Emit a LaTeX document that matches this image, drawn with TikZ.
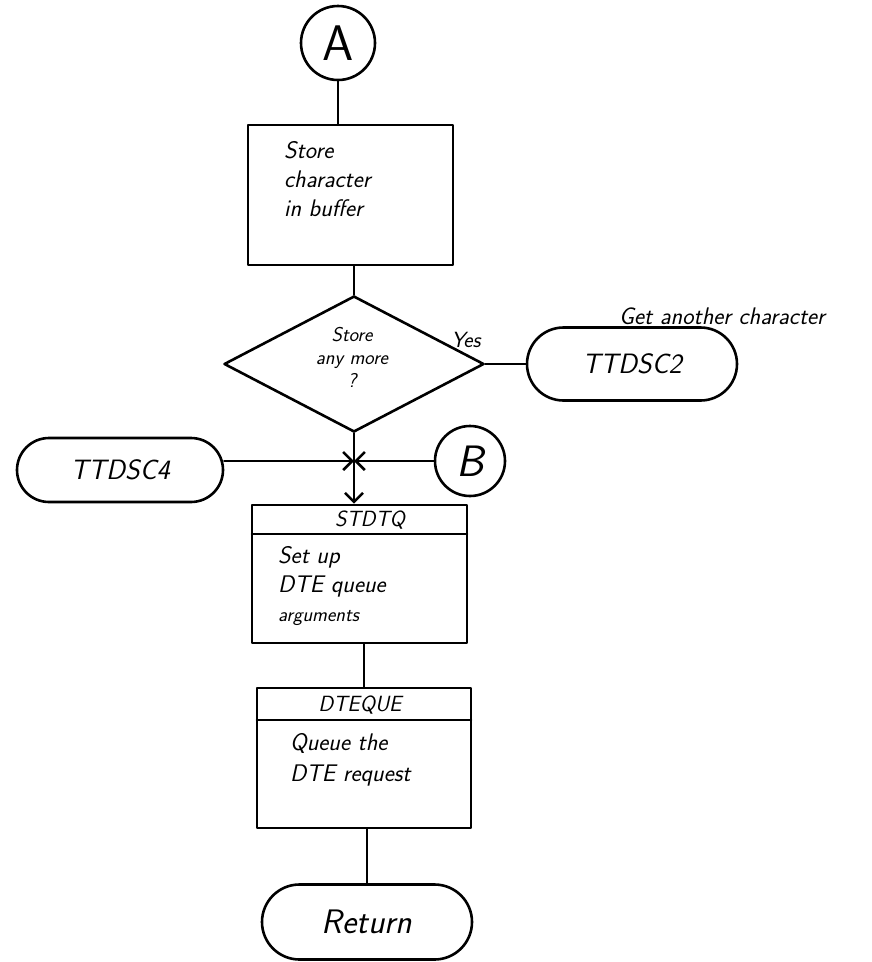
\documentclass[tikz,border=0pt]{standalone}
\usepackage{fontspec}
\usetikzlibrary{shapes.geometric,shapes.misc,arrows.meta}
\begin{document}
\begin{tikzpicture}[x=1pt,y=-1pt,
  every node/.style={font=\sffamily\itshape},
  ln/.style={line width=2.6pt, line cap=round, line join=round},
  circ/.style={ln, draw, circle, inner sep=0pt},
  box/.style={ln, draw, rectangle, inner sep=0pt},
  term/.style={ln, draw, rounded rectangle, inner sep=0pt},
  dia/.style={ln, draw, diamond, inner sep=0pt, minimum width=260pt, minimum height=136pt},
  txt/.style={align=left, inner sep=0pt, anchor=north west},
  arr/.style={ln, -{Straight Barb[length=9pt,width=18pt,line width=2.6pt]}}
]
\useasboundingbox (0,0) rectangle (872,962);

% connector A
\node[circ, minimum size=74pt, font=\fontsize{50}{50}\selectfont\sffamily] (A) at (338,43) {A};

% store character box
\node[box, minimum width=205pt, minimum height=140pt] (s1) at (350.5,195) {};
\node[txt, font=\fontsize{24}{29}\selectfont\sffamily\itshape] (s1t) at (284,141) {Store\\character\\in buffer};

% decision
\node[dia] (d) at (354,364) {};
\node[align=center, inner sep=0pt, font=\fontsize{20}{23}\selectfont\sffamily\itshape] (dt) at (352,357) {Store\\any more\\?};
\node[inner sep=0pt, font=\fontsize{22}{22}\selectfont\sffamily\itshape] (yes) at (466,340) {Yes};

% TTDSC2
\node[term, minimum width=210pt, minimum height=73pt, font=\fontsize{28}{28}\selectfont\sffamily\itshape] (T2) at (632,364) {TTDSC2};
\node[inner sep=0pt, font=\fontsize{24}{24}\selectfont\sffamily\itshape] (gac) at (722,316) {Get another character};

% TTDSC4
\node[term, minimum width=206pt, minimum height=64pt, font=\fontsize{28}{28}\selectfont\sffamily\itshape] (T4) at (120,470) {TTDSC4};

% junction and B
\coordinate (j) at (354,461);
\node[circ, minimum size=70pt, font=\fontsize{44}{44}\selectfont\sffamily\itshape] (B) at (470,461) {B};

% STDTQ box
\node[box, minimum width=215pt, minimum height=138pt] (q1) at (359.5,574) {};
\draw[ln] (252,534) -- (467,534);
\node[inner sep=0pt, font=\fontsize{22}{22}\selectfont\sffamily\itshape] (q1h) at (370,520) {STDTQ};
\node[txt, font=\fontsize{24}{29}\selectfont\sffamily\itshape] (q1t) at (278,546) {Set up\\DTE queue\\{\fontsize{20}{20}\selectfont arguments}};

% DTEQUE box
\node[box, minimum width=214pt, minimum height=140pt] (q2) at (364,758) {};
\draw[ln] (257,720) -- (471,720);
\node[inner sep=0pt, font=\fontsize{22}{22}\selectfont\sffamily\itshape] (q2h) at (360,705) {DTEQUE};
\node[txt, font=\fontsize{24}{31}\selectfont\sffamily\itshape] (q2t) at (290,733) {Queue the\\DTE request};

% Return
\node[term, minimum width=210pt, minimum height=75pt, font=\fontsize{34}{34}\selectfont\sffamily\itshape] (ret) at (367,922) {Return};

% connectors
\draw[ln] (A.south) -- (A.south |- s1.north);
\draw[ln] (d.north |- s1.south) -- (d.north);
\draw[ln] (d.east) -- (T2.west);
\draw[ln] (d.south) -- (j);
\draw[arr] (T4.east |- j) -- (j);
\draw[arr] (B.west) -- (j);
\draw[arr] (j) -- (j |- q1.north);
\draw[ln] (q1.south -| q2.north) -- (q2.north);
\draw[ln] (q2.south -| ret.north) -- (ret.north);
\end{tikzpicture}
\end{document}
